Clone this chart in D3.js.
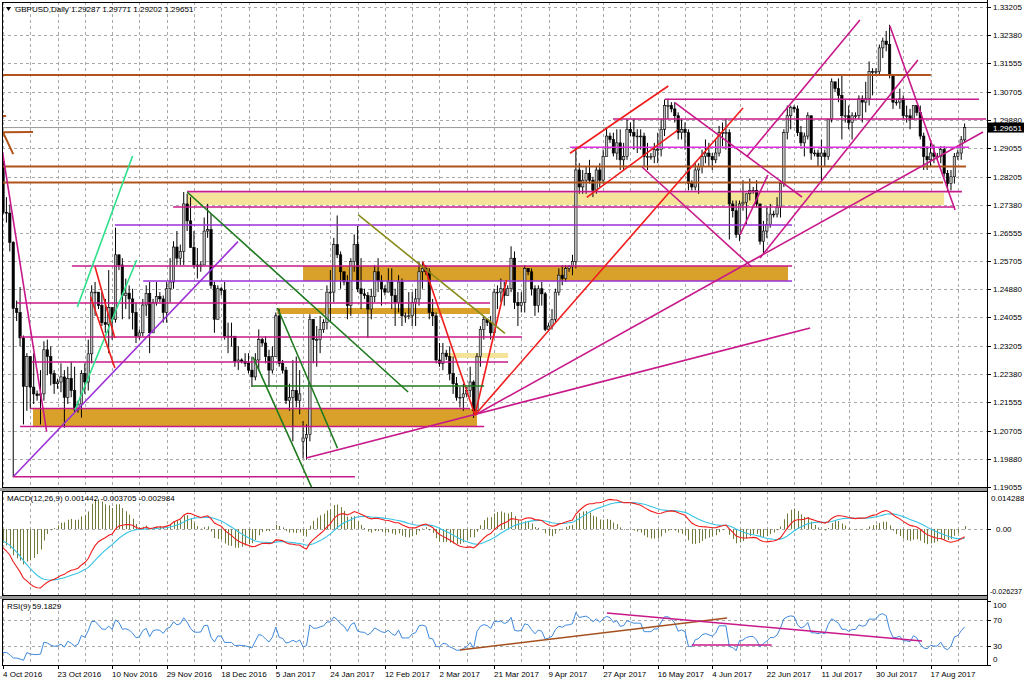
<!DOCTYPE html>
<html><head><meta charset="utf-8">
<script src="https://cdn.jsdelivr.net/npm/d3@7"></script>
<style>body{margin:0;background:#fff;overflow:hidden}svg{display:block}text{font-family:"Liberation Sans",Arial,sans-serif;font-size:8px;fill:#000}</style>
</head><body><svg id="c" width="1024" height="683"></svg>
<script>
// ---------- data (GBPUSD daily, 4 Oct 2016 .. 29 Aug 2017, broker with Sunday bars) ----------
const startDate = "2016-10-04";
const firstOpen = 1.2865;
const gapOpens = [[88, 1.2040], [282, 1.29287]];
const high = [
1.2875,1.2760,1.2738,1.2630,1.2455,1.2495,1.2352,1.2300,1.2290,1.2300,1.2190,1.2250,1.2335,1.2340,1.2320,1.2250,
1.2225,1.2270,1.2250,1.2260,1.2275,1.2260,1.2160,1.2250,1.2270,1.2340,1.2500,1.2510,1.2480,1.2480,1.2460,1.2545,
1.2435,1.2670,1.2590,1.2580,1.2520,1.2500,1.2490,1.2450,1.2370,1.2460,1.2500,1.2510,1.2460,1.2510,1.2480,1.2470,
1.2510,1.2580,1.2630,1.2660,1.2620,1.2775,1.2770,1.2760,1.2660,1.2610,1.2570,1.2700,1.2740,1.2710,1.2510,1.2500,
1.2495,1.2510,1.2390,1.2390,1.2350,1.2320,1.2285,1.2300,1.2300,1.2290,1.2300,1.2370,1.2345,1.2350,1.2310,1.2320,
1.2420,1.2430,1.2280,1.2260,1.2210,1.2280,1.2290,1.2250,1.2100,1.2090,1.2415,1.2400,1.2380,1.2410,1.2400,1.2500,
1.2545,1.2640,1.2706,1.2600,1.2540,1.2530,1.2580,1.2650,1.2675,1.2580,1.2490,1.2480,1.2490,1.2560,1.2580,1.2530,
1.2500,1.2550,1.2550,1.2490,1.2530,1.2520,1.2420,1.2480,1.2480,1.2490,1.2570,1.2570,1.2560,1.2550,1.2460,1.2420,
1.2330,1.2330,1.2310,1.2320,1.2290,1.2230,1.2200,1.2210,1.2200,1.2260,1.2220,1.2300,1.2380,1.2410,1.2400,1.2410,
1.2490,1.2500,1.2520,1.2510,1.2500,1.2615,1.2600,1.2480,1.2480,1.2560,1.2550,1.2550,1.2500,1.2500,1.2510,1.2480,
1.2390,1.2430,1.2490,1.2550,1.2560,1.2560,1.2560,1.2590,1.2905,1.2860,1.2840,1.2850,1.2870,1.2820,1.2850,1.2860,
1.2900,1.2965,1.2950,1.2950,1.2960,1.2960,1.2920,1.2990,1.2980,1.2990,1.2960,1.2960,1.2950,1.2920,1.2890,1.2920,
1.2950,1.2990,1.3048,1.3050,1.3040,1.3040,1.3010,1.2990,1.2980,1.2960,1.2810,1.2860,1.2860,1.2900,1.2930,1.2920,
1.2890,1.2930,1.2970,1.2980,1.2990,1.2960,1.2750,1.2750,1.2750,1.2810,1.2770,1.2815,1.2790,1.2810,1.2740,1.2690,
1.2730,1.2740,1.2720,1.2760,1.2810,1.2960,1.3030,1.3030,1.3030,1.3030,1.2970,1.2950,1.3010,1.3000,1.2900,1.2900,
1.2930,1.2900,1.2990,1.3110,1.3100,1.3110,1.3120,1.3050,1.3030,1.3010,1.3010,1.3060,1.3060,1.3100,1.3160,1.3140,
1.3140,1.3210,1.3230,1.3250,1.3268,1.3120,1.3050,1.3080,1.3060,1.3030,1.3020,1.3030,1.3030,1.3030,1.2950,1.2910,
1.2920,1.2915,1.2890,1.2910,1.2910,1.2840,1.2840,1.2890,1.2900,1.2940,1.29771];
const low = [
1.2710,1.2685,1.2600,1.1935,1.2395,1.2320,1.2090,1.2130,1.2135,1.2150,1.2160,1.2090,1.2160,1.2235,1.2205,1.2180,
1.2195,1.2185,1.2080,1.2150,1.2170,1.2125,1.2125,1.2110,1.2180,1.2190,1.2270,1.2410,1.2430,1.2380,1.2360,1.2300,
1.2340,1.2390,1.2545,1.2400,1.2430,1.2400,1.2370,1.2330,1.2340,1.2350,1.2410,1.2300,1.2360,1.2440,1.2450,1.2390,
1.2390,1.2450,1.2490,1.2560,1.2560,1.2560,1.2660,1.2610,1.2550,1.2520,1.2540,1.2560,1.2640,1.2490,1.2360,1.2400,
1.2470,1.2340,1.2300,1.2320,1.2260,1.2250,1.2270,1.2260,1.2240,1.2200,1.2220,1.2250,1.2320,1.2270,1.2200,1.2240,
1.2290,1.2260,1.2240,1.2150,1.2130,1.2040,1.2140,1.2120,1.1990,1.1986,1.2040,1.2270,1.2260,1.2300,1.2360,1.2370,
1.2390,1.2450,1.2580,1.2490,1.2500,1.2400,1.2410,1.2540,1.2480,1.2430,1.2460,1.2345,1.2400,1.2450,1.2480,1.2440,
1.2470,1.2480,1.2430,1.2380,1.2420,1.2380,1.2390,1.2400,1.2380,1.2380,1.2440,1.2490,1.2530,1.2400,1.2380,1.2270,
1.2260,1.2250,1.2280,1.2220,1.2180,1.2160,1.2140,1.2130,1.2170,1.2170,1.2109,1.2130,1.2260,1.2340,1.2380,1.2340,
1.2350,1.2430,1.2450,1.2440,1.2470,1.2480,1.2430,1.2380,1.2420,1.2420,1.2530,1.2470,1.2410,1.2420,1.2440,1.2365,
1.2365,1.2370,1.2390,1.2470,1.2500,1.2510,1.2540,1.2530,1.2550,1.2770,1.2770,1.2770,1.2800,1.2760,1.2770,1.2790,
1.2800,1.2880,1.2920,1.2880,1.2870,1.2840,1.2840,1.2870,1.2940,1.2900,1.2890,1.2900,1.2850,1.2840,1.2870,1.2860,
1.2860,1.2880,1.2940,1.2990,1.3010,1.2980,1.2930,1.2930,1.2900,1.2780,1.2780,1.2780,1.2770,1.2830,1.2860,1.2850,
1.2840,1.2860,1.2880,1.2910,1.2900,1.2635,1.2700,1.2640,1.2630,1.2720,1.2680,1.2750,1.2770,1.2730,1.2620,1.2590,
1.2640,1.2670,1.2700,1.2700,1.2700,1.2790,1.2930,1.2960,1.3010,1.2940,1.2910,1.2880,1.2930,1.2870,1.2880,1.2850,
1.2810,1.2850,1.2870,1.2980,1.3070,1.3040,1.2930,1.2980,1.2960,1.2930,1.2990,1.2990,1.2980,1.3010,1.3030,1.3060,
1.3120,1.3120,1.3170,1.3190,1.3110,1.3020,1.3030,1.3020,1.2990,1.2980,1.2960,1.2990,1.3000,1.2930,1.2840,1.2840,
1.2850,1.2860,1.2870,1.2860,1.2820,1.2775,1.2780,1.2800,1.2870,1.2870,1.29202];
const close = [
1.2715,1.2713,1.2627,1.2432,1.2420,1.2345,1.2202,1.2290,1.2200,1.2180,1.2175,1.2180,1.2310,1.2290,1.2240,1.2210,
1.2215,1.2230,1.2170,1.2225,1.2190,1.2135,1.2150,1.2240,1.2215,1.2298,1.2480,1.2480,1.2440,1.2390,1.2385,1.2435,
1.2400,1.2590,1.2560,1.2470,1.2477,1.2460,1.2420,1.2350,1.2360,1.2442,1.2476,1.2360,1.2450,1.2467,1.2460,1.2420,
1.2490,1.2510,1.2613,1.2580,1.2600,1.2740,1.2690,1.2612,1.2560,1.2556,1.2560,1.2660,1.2664,1.2500,1.2400,1.2490,
1.2485,1.2350,1.2350,1.2350,1.2275,1.2280,1.2275,1.2270,1.2250,1.2230,1.2280,1.2340,1.2330,1.2290,1.2250,1.2290,
1.2410,1.2270,1.2250,1.2160,1.2170,1.2190,1.2160,1.2180,1.2050,1.2060,1.2400,1.2340,1.2340,1.2370,1.2390,1.2480,
1.2480,1.2620,1.2590,1.2540,1.2510,1.2440,1.2570,1.2620,1.2490,1.2475,1.2470,1.2430,1.2467,1.2540,1.2513,1.2490,
1.2480,1.2510,1.2470,1.2450,1.2510,1.2410,1.2410,1.2410,1.2450,1.2460,1.2540,1.2550,1.2540,1.2420,1.2410,1.2280,
1.2270,1.2300,1.2290,1.2240,1.2210,1.2170,1.2170,1.2180,1.2190,1.2215,1.2130,1.2290,1.2370,1.2400,1.2390,1.2360,
1.2480,1.2480,1.2490,1.2470,1.2490,1.2580,1.2450,1.2440,1.2450,1.2550,1.2540,1.2490,1.2440,1.2490,1.2475,1.2370,
1.2380,1.2400,1.2480,1.2530,1.2520,1.2550,1.2555,1.2570,1.2840,1.2790,1.2810,1.2830,1.2810,1.2780,1.2840,1.2810,
1.2880,1.2940,1.2930,1.2890,1.2920,1.2870,1.2880,1.2960,1.2950,1.2940,1.2940,1.2940,1.2880,1.2880,1.2880,1.2900,
1.2900,1.2960,1.3030,1.3030,1.3020,1.3000,1.2950,1.2960,1.2950,1.2800,1.2790,1.2840,1.2850,1.2880,1.2890,1.2880,
1.2870,1.2890,1.2950,1.2950,1.2950,1.2740,1.2720,1.2650,1.2740,1.2745,1.2770,1.2780,1.2780,1.2740,1.2630,1.2660,
1.2680,1.2710,1.2710,1.2730,1.2800,1.2950,1.3000,1.3025,1.3020,1.2950,1.2920,1.2940,1.3000,1.2890,1.2890,1.2880,
1.2890,1.2880,1.2990,1.3100,1.3080,1.3060,1.3000,1.3000,1.2980,1.3000,1.3000,1.3050,1.3040,1.3050,1.3130,1.3130,
1.3130,1.3200,1.3220,1.3210,1.3120,1.3040,1.3040,1.3050,1.3000,1.3000,1.2990,1.3030,1.3010,1.2940,1.2880,1.2870,
1.2890,1.2880,1.2880,1.2900,1.2830,1.2800,1.2820,1.2880,1.2890,1.2929,1.29651];
// closes before the visible window (mid Aug .. 3 Oct 2016), used only to warm up the indicators
const historyClose = [1.2880,1.3040,1.3040,1.3170,1.3075,1.3070,1.3080,1.3220,1.3225,1.3230,1.3170,1.3165,1.3110,1.3070,
1.3140,1.3280,1.3300,1.3300,1.3320,1.3380,1.3310,1.3260,1.3270,1.3265,1.3320,1.3130,1.3210,1.3250,1.3060,1.3055,
1.3040,1.2990,1.3040,1.3050,1.2960,1.2965,1.2990,1.2960,1.3000,1.2970,1.2970,1.2960,1.2865];

const priceTicks = [1.33205,1.32380,1.31555,1.30705,1.29880,1.29055,1.28205,1.27380,1.26555,1.25705,1.24880,1.24055,1.23205,1.22380,1.21555,1.20705,1.19880,1.19055];
const dateLabels = ["4 Oct 2016","23 Oct 2016","10 Nov 2016","29 Nov 2016","18 Dec 2016","5 Jan 2017","24 Jan 2017","12 Feb 2017","2 Mar 2017","21 Mar 2017","9 Apr 2017","27 Apr 2017","16 May 2017","4 Jun 2017","22 Jun 2017","11 Jul 2017","30 Jul 2017","17 Aug 2017"];
const macdTicks = [0.014288, 0, -0.026237];
const macdTickLabels = ["0.014288","0.00","-0.026237"];
const rsiTicks = [100,70,30,0];
const lastPrice = 1.29651;

// drawn objects, as [bar1, price1, bar2, price2]
const brownLines = [[0,1.3120,272.1,1.3120],[0,1.2850,282.4,1.2850],[0,1.2803,275.7,1.2803],[-0.3,1.2951,8.8,1.2952],[0.1,1.2949,3.0,1.2887],[-0.3,1.2999,0.9,1.2999]];
const pinkLines = [[194.1,1.30485,286.2,1.30485],[178.9,1.29904,288.3,1.29904],[54.0,1.27761,281.2,1.27761],[49.9,1.27310,279.2,1.27310],
 [20.2,1.25570,231.4,1.25570],[4.1,1.24479,142.8,1.24479],[5.0,1.23477,152.2,1.23477],[8.5,1.22740,148.1,1.22740],[7.9,1.21369,137.0,1.21369],
 [5.0,1.20839,141.1,1.20839],[2.9,1.19359,103.2,1.19359],
 [-0.1,1.28902,12.8,1.20685],[138.4,1.21178,287.4,1.29521],[88.9,1.19910,236.7,1.23742],[260.1,1.32646,279.2,1.27221],
 [218.1,1.28793,251.3,1.32823],[222.0,1.25806,268.3,1.31643],[197.1,1.30376,234.3,1.27604],[187.4,1.28489,219.6,1.25541],[216.1,1.26484,224.3,1.28253]];
const magentaLines = [[166.3,1.29070,283.3,1.29070]];
const purpleLines = [[32.8,1.26779,231.4,1.26779],[41.1,1.25128,231.4,1.25128],[3.0,1.19359,68.9,1.26287]];
const springLines = [[21.8,1.24362,38.0,1.28813],[21.1,1.21325,39.2,1.25747]];
const redLines = [[27.0,1.25550,32.8,1.23448],[25.7,1.24665,32.8,1.22563],[123.1,1.25697,138.4,1.21178],[138.4,1.21178,147.7,1.25158],
 [138.4,1.21178,217.0,1.30228],[166.3,1.28893,195.1,1.30877],[171.2,1.27596,198.0,1.29580]];
const greenLines = [[73.0,1.22033,141.1,1.22033],[54.0,1.27752,118.8,1.21856],[73.3,1.22888,90.6,1.19026],[80.5,1.24332,98.1,1.20196]];
const oliveLines = [[104.2,1.27074,147.2,1.23586]];
// zones as [bar1, bar2, priceTop, priceBottom]
const orangeZones = [[88.0,230.2,1.25570,1.25128],[80.4,142.8,1.24332,1.24155],[8.8,139.0,1.21355,1.20853]];
const yellowZones = [[54.0,276.0,1.27722,1.27369],[130.5,148.1,1.23005,1.22858]];
// RSI window objects [bar1, rsi1, bar2, rsi2]
const rsiBrownLines = [[134.0,23.4,212.3,73.4]];
const rsiPinkLines = [[177.1,81.3,269.5,37.5],[202.0,31.25,225.4,31.25]];

// ---------- derived series ----------
const N = close.length;
const open = close.map((c,i)=> i===0 ? firstOpen : close[i-1]);
gapOpens.forEach(([i,v])=>{ open[i]=v; });
const bars = d3.range(N).map(i=>({i,o:open[i],h:high[i],l:low[i],c:close[i]}));

function ema(arr,n){const a=2/(n+1);let e=arr[0];return arr.map((v,i)=>(e=i?e+a*(v-e):v));}
const all = historyClose.concat(close);
const H0 = historyClose.length;
const e12 = ema(all,12), e26 = ema(all,26);
const macdAll = all.map((v,i)=>e12[i]-e26[i]);
const sigAll = ema(macdAll,9);
const macd = macdAll.slice(H0), signal = sigAll.slice(H0);
const hist = macd.map((m,i)=>2*(m-signal[i]));
// RSI(9) Wilder
const rsiAll=[]; {let ag=0,al=0;
 for(let i=1;i<all.length;i++){const ch=all[i]-all[i-1];const g=Math.max(ch,0),l=Math.max(-ch,0);
  if(i<=9){ag+=g/9;al+=l/9;} else {ag=(ag*8+g)/9;al=(al*8+l)/9;}
  rsiAll[i]= al===0?100:100-100/(1+ag/al);} }
const rsi = rsiAll.slice(H0);

// ---------- layout ----------
const svg = d3.select("#c");
const L=2, R=988;
const mainTop=2, mainBot=488, macdTop=491, macdBot=596, rsiTop=599, rsiBot=666;
const x = d3.scaleLinear().domain([0,282]).range([3,3+282*3.41]);
const y = d3.scaleLinear().domain([1.19055,1.33205]).range([487,7]);
const ym = d3.scaleLinear().domain([-0.026237,0.014288]).range([594.5,493.5]);
const yr = d3.scaleLinear().domain([0,100]).range([665,601]);

svg.append("rect").attr("width",1024).attr("height",683).attr("fill","#fff");
// panel separators
svg.append("rect").attr("x",0).attr("y",mainBot).attr("width",R).attr("height",macdTop-mainBot).attr("fill","#9a9a9a");
svg.append("rect").attr("x",0).attr("y",macdBot).attr("width",R).attr("height",rsiTop-macdBot).attr("fill","#9a9a9a");

const defs = svg.append("defs");
function clip(id,y0,y1){defs.append("clipPath").attr("id",id).append("rect").attr("x",L+0.5).attr("y",y0).attr("width",R-L-1).attr("height",y1-y0);}
clip("cm",mainTop,mainBot); clip("cd",macdTop,macdBot); clip("cr",rsiTop,rsiBot);

const gridCol="#a9a9a9";
// vertical grid, every 8 bars
const vg = d3.range(0,283,8);
[[mainTop,mainBot],[macdTop,macdBot],[rsiTop,rsiBot]].forEach(([a,b])=>{
  svg.append("g").selectAll("line").data(vg).enter().append("line")
   .attr("x1",d=>Math.round(x(d))+0.5).attr("x2",d=>Math.round(x(d))+0.5).attr("y1",a).attr("y2",b)
   .attr("stroke",gridCol).attr("stroke-dasharray","3,3");
});
svg.append("g").selectAll("line").data(priceTicks).enter().append("line")
  .attr("x1",L).attr("x2",R).attr("y1",d=>Math.round(y(d))+0.5).attr("y2",d=>Math.round(y(d))+0.5)
  .attr("stroke",gridCol).attr("stroke-dasharray","3,3");
svg.append("line").attr("x1",L).attr("x2",R).attr("y1",Math.round(ym(0))+0.5).attr("y2",Math.round(ym(0))+0.5).attr("stroke",gridCol).attr("stroke-dasharray","3,3");
[70,30].forEach(v=>svg.append("line").attr("x1",L).attr("x2",R).attr("y1",Math.round(yr(v))+0.5).attr("y2",Math.round(yr(v))+0.5).attr("stroke",gridCol).attr("stroke-dasharray","3,3"));

// ---------- main window ----------
const gm = svg.append("g").attr("clip-path","url(#cm)");
function zones(arr,fill){gm.append("g").selectAll("rect").data(arr).enter().append("rect")
  .attr("x",d=>x(d[0])).attr("width",d=>x(d[1])-x(d[0])).attr("y",d=>y(d[2])).attr("height",d=>y(d[3])-y(d[2])).attr("fill",fill);}
zones(yellowZones,"#f6e39a");
zones(orangeZones,"#d9a02a");

// bid line
gm.append("line").attr("x1",L).attr("x2",R).attr("y1",y(lastPrice)).attr("y2",y(lastPrice)).attr("stroke","#9a9a9a").attr("stroke-width",1);

// candles
const cg = gm.append("g");
cg.selectAll("line").data(bars).enter().append("line")
  .attr("x1",d=>x(d.i)).attr("x2",d=>x(d.i)).attr("y1",d=>y(d.h)).attr("y2",d=>y(d.l)).attr("stroke","#000").attr("stroke-width",1);
cg.selectAll("rect").data(bars).enter().append("rect")
  .attr("x",d=>x(d.i)-1.2).attr("width",2.4)
  .attr("y",d=>y(Math.max(d.o,d.c))).attr("height",d=>Math.max(0.8,Math.abs(y(d.o)-y(d.c))))
  .attr("fill",d=>d.c>=d.o?"#bdbdbd":"#000").attr("stroke","#000").attr("stroke-width",0.6);

function lines(g,arr,color,w,ys){g.append("g").selectAll("line").data(arr).enter().append("line")
  .attr("x1",d=>x(d[0])).attr("y1",d=>ys(d[1])).attr("x2",d=>x(d[2])).attr("y2",d=>ys(d[3]))
  .attr("stroke",color).attr("stroke-width",w);}
lines(gm,brownLines,"#b0541c",2,y);
lines(gm,purpleLines,"#9b30d9",1.6,y);
lines(gm,pinkLines,"#c8198a",1.6,y);
lines(gm,magentaLines,"#e12ee0",1.6,y);
lines(gm,springLines,"#2de08a",1.6,y);
lines(gm,redLines,"#f01c1c",1.6,y);
lines(gm,greenLines,"#1f7a1f",1.6,y);
lines(gm,oliveLines,"#8a8a1a",1.6,y);

// ---------- MACD window ----------
const gd = svg.append("g").attr("clip-path","url(#cd)");
gd.append("g").selectAll("line").data(hist).enter().append("line")
  .attr("x1",(d,i)=>Math.round(x(i))+0.5).attr("x2",(d,i)=>Math.round(x(i))+0.5).attr("y1",ym(0)).attr("y2",d=>ym(d))
  .attr("stroke","#6f7a3a").attr("stroke-width",1);
gd.append("path").datum(signal).attr("fill","none").attr("stroke","#35c3e6").attr("stroke-width",1.1)
  .attr("d",d3.line().x((d,i)=>x(i)).y(d=>ym(d)));
gd.append("path").datum(macd).attr("fill","none").attr("stroke","#f01c1c").attr("stroke-width",1.1)
  .attr("d",d3.line().x((d,i)=>x(i)).y(d=>ym(d)));

// ---------- RSI window ----------
const gr = svg.append("g").attr("clip-path","url(#cr)");
gr.append("path").datum(rsi).attr("fill","none").attr("stroke","#3d88db").attr("stroke-width",1)
  .attr("d",d3.line().x((d,i)=>x(i)).y(d=>yr(d)));
lines(gr,rsiBrownLines,"#a4501e",1.6,yr);
lines(gr,rsiPinkLines,"#c8198a",1.6,yr);

// ---------- frames & axes ----------
[[mainTop,mainBot],[macdTop,macdBot],[rsiTop,rsiBot]].forEach(([a,b])=>{
  svg.append("rect").attr("x",L+0.5).attr("y",a+0.5).attr("width",R-L-1).attr("height",b-a-1).attr("fill","none").attr("stroke","#000");
});
svg.append("line").attr("x1",R-0.5).attr("x2",R-0.5).attr("y1",0).attr("y2",rsiBot).attr("stroke","#000");

const ax = svg.append("g");
ax.selectAll("line.pt").data(priceTicks).enter().append("line")
  .attr("x1",R).attr("x2",R+3).attr("y1",d=>Math.round(y(d))+0.5).attr("y2",d=>Math.round(y(d))+0.5).attr("stroke","#000");
ax.selectAll("text.pt").data(priceTicks).enter().append("text")
  .attr("x",993).attr("y",d=>y(d)+3).text(d=>d.toFixed(5));
// current price box
ax.append("rect").attr("x",R).attr("y",y(lastPrice)-5).attr("width",1024-R).attr("height",10).attr("fill","#000");
ax.append("text").attr("x",993).attr("y",y(lastPrice)+3).style("fill","#fff").text(lastPrice.toFixed(5));

// MACD labels
ax.append("text").attr("x",991).attr("y",ym(macdTicks[0])+7).text(macdTickLabels[0]);
ax.append("text").attr("x",996).attr("y",ym(macdTicks[1])+3).text(macdTickLabels[1]);
ax.append("text").attr("x",990).attr("y",ym(macdTicks[2])-1).style("font-size","7.5px").attr("textLength",32).attr("lengthAdjust","spacingAndGlyphs").text(macdTickLabels[2]);
ax.append("line").attr("x1",R).attr("x2",R+3).attr("y1",Math.round(ym(0))+0.5).attr("y2",Math.round(ym(0))+0.5).attr("stroke","#000");
// RSI labels
rsiTicks.forEach(v=>{
  const yy = v===100? yr(v)+7 : v===0? yr(v)-3 : yr(v)+3;
  ax.append("text").attr("x",993).attr("y",yy).text(v);
  ax.append("line").attr("x1",R).attr("x2",R+3).attr("y1",Math.round(yr(v))+0.5).attr("y2",Math.round(yr(v))+0.5).attr("stroke","#000");
});

// date axis
ax.selectAll("text.dt").data(dateLabels).enter().append("text")
  .attr("x",(d,i)=>x(i*16)).attr("y",677).text(d=>d);
ax.selectAll("line.dt").data(dateLabels).enter().append("line")
  .attr("x1",(d,i)=>Math.round(x(i*16))+0.5).attr("x2",(d,i)=>Math.round(x(i*16))+0.5).attr("y1",rsiBot).attr("y2",rsiBot+3).attr("stroke","#000");

// titles
svg.append("path").attr("d","M6,7 L11,7 L8.5,11 Z").attr("fill","#000");
svg.append("text").attr("x",15).attr("y",12).text("GBPUSD,Daily  1.29287 1.29771 1.29202 1.29651");
svg.append("text").attr("x",7).attr("y",501).text("MACD(12,26,9) 0.001442 -0.003705 -0.002984");
svg.append("text").attr("x",7).attr("y",609).text("RSI(9) 59.1829");
</script></body></html>
